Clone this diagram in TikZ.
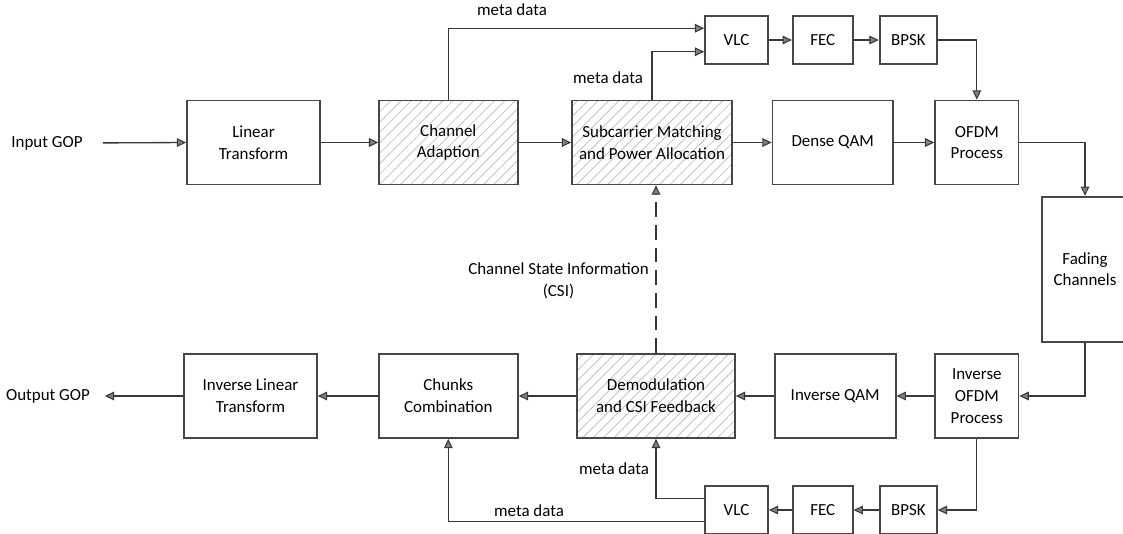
\documentclass[tikz,border=0pt]{standalone}
\usepackage{fontspec}
\setmainfont{Carlito}
\usetikzlibrary{arrows.meta,patterns.meta}

\begin{document}
\begin{tikzpicture}[
	x=0.75pt, y=-0.75pt,
	font=\fontsize{12.7}{16.3}\selectfont,
	block/.style = {shape=rectangle,
		draw=black!72, line width=1.3pt, align=center,
		inner sep=0pt, minimum height=63pt},
	small/.style = {block, minimum height=36pt},
	hatched/.style = {pattern={Lines[angle=45,distance=5.5pt,line width=0.5pt]},
		pattern color=black!28},
	link/.style = {draw=black!78, line width=1pt,
		-{Triangle[length=7pt,width=6.5pt,fill=black!50,line width=0.8pt]}},
	txt/.style = {align=center, inner sep=0pt}]
	\useasboundingbox (0,0) rectangle (1123,533);
	
	\node[txt] (in) at (47,143) {Input GOP};
	\node[block, minimum width=99.75pt] (lt) at (253.5,142.5) {Linear\\Transform};
	\node[block, hatched, minimum width=104.5pt] (ca) at (448.3,142.5) {Channel\\Adaption};
	\node[block, hatched, minimum width=120pt] (sm) at (652,142.5) {Subcarrier Matching\\and Power Allocation};
	\node[block, minimum width=90.2pt] (qam) at (832.7,142.5) {Dense QAM};
	\node[block, minimum width=62.6pt] (ofdm) at (976.8,142.5) {OFDM\\Process};
	\node[small, minimum width=47.25pt] (vlc) at (736.5,40) {VLC};
	\node[small, minimum width=45pt] (fec) at (822.7,40) {FEC};
	\node[small, minimum width=43pt] (bpsk) at (908.3,40) {BPSK};
	\node[block, minimum width=64.5pt, minimum height=108.75pt] (fade) at (1085,269.2) {Fading\\Channels};
	
	\node[txt] (out) at (48,396) {Output GOP};
	\node[block, minimum width=99.75pt] (ilt) at (250.5,396) {Inverse Linear\\Transform};
	\node[block, minimum width=104.5pt] (cc) at (448.3,396) {Chunks\\Combination};
	\node[block, hatched, minimum width=118.5pt] (dm) at (656,396) {Demodulation\\and CSI Feedback};
	\node[block, minimum width=90.75pt] (iqam) at (835.2,396) {Inverse QAM};
	\node[block, minimum width=62.6pt] (iofdm) at (976.8,396) {Inverse\\OFDM\\Process};
	\node[small, minimum width=47.25pt] (ivlc) at (736.5,510) {VLC};
	\node[small, minimum width=45pt] (ifec) at (822.7,510) {FEC};
	\node[small, minimum width=43pt] (ibpsk) at (908.3,510) {BPSK};
	
	\node[txt] (md1) at (512,10) {meta data};
	\node[txt] (md2) at (608,78) {meta data};
	\node[txt] (md3) at (614,469) {meta data};
	\node[txt] (md4) at (529,511) {meta data};
	\node[txt] (csi) at (558.5,281) {Channel State Information\\(CSI)};
	
	\draw[link, shorten <=15pt] (in.east) -- (lt.west);
	\draw[link] (lt) -- (ca);
	\draw[link] (ca) -- (sm);
	\draw[link] (sm) -- (qam);
	\draw[link] (qam) -- (ofdm);
	\draw[link] (ca.north) |- ([yshift=8.8pt]vlc.west);
	\draw[link] (sm.north) |- ([yshift=-8.8pt]vlc.west);
	\draw[link] (vlc) -- (fec);
	\draw[link] (fec) -- (bpsk);
	\draw[link] (bpsk.east) -| (ofdm.north);
	\draw[link] (ofdm.east) -| (fade.north);
	\draw[link] (fade.south) |- (iofdm.east);
	\draw[link] (iofdm.south) |- (ibpsk.east);
	\draw[link] (ibpsk) -- (ifec);
	\draw[link] (ifec) -- (ivlc);
	\draw[link] ([yshift=8.8pt]ivlc.west) -| (dm.south);
	\draw[link] ([yshift=-8.8pt]ivlc.west) -| (cc.south);
	\draw[link] (iofdm) -- (iqam);
	\draw[link] (iqam) -- (dm);
	\draw[link] (dm) -- (cc);
	\draw[link] (cc) -- (ilt);
	\draw[link, shorten >=11pt] (ilt.west) -- (out.east);
	\draw[link, dash pattern=on 11pt off 6pt] (dm.north) -- (dm.north |- sm.south);
\end{tikzpicture}
\end{document}
